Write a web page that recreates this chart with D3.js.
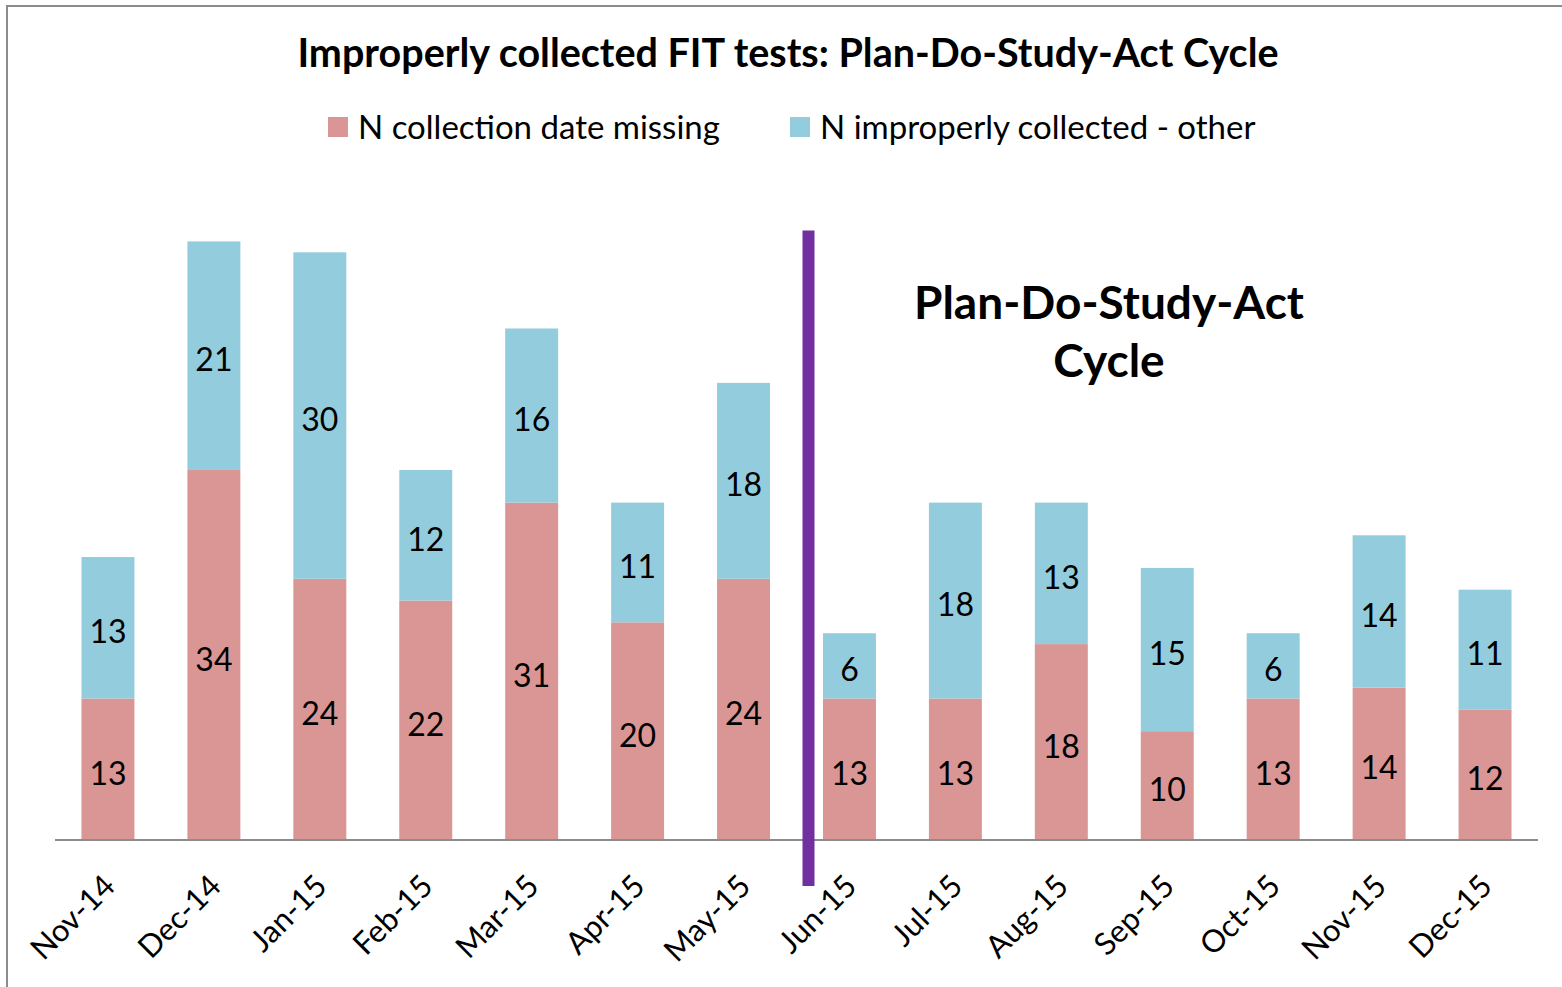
<!DOCTYPE html>
<html>
<head>
<meta charset="utf-8">
<script src="https://cdn.jsdelivr.net/npm/d3@7"></script>
<style>
  body { margin: 0; background: #fff; }
  text { font-family: Lato, "Open Sans", sans-serif; }
</style>
</head>
<body>
<div id="chart-area"></div>
<script>
const months = ['Nov-14', 'Dec-14', 'Jan-15', 'Feb-15', 'Mar-15', 'Apr-15', 'May-15',
                'Jun-15', 'Jul-15', 'Aug-15', 'Sep-15', 'Oct-15', 'Nov-15', 'Dec-15'];
const dateMissing = [13, 34, 24, 22, 31, 20, 24, 13, 13, 18, 10, 13, 14, 12];
const otherImproper = [13, 21, 30, 12, 16, 11, 18, 6, 18, 13, 15, 6, 14, 11];
const seriesNames = ['N collection date missing', 'N improperly collected - other'];
const colors = ['#d99694', '#93cddd'];

const W = 1562, H = 987;
const margin = {left: 55, right: 24, top: 187, bottom: 147};
const width = W - margin.left - margin.right;
const height = H - margin.top - margin.bottom;

const svg = d3.select('#chart-area')
    .append('svg')
        .attr('width', W)
        .attr('height', H);

// chart frame (cut off at right and bottom)
svg.append('rect')
    .attr('x', 7).attr('y', 6)
    .attr('width', W + 10).attr('height', H + 10)
    .attr('fill', 'none')
    .attr('stroke', '#8c8c8c')
    .attr('stroke-width', 2);

// title
svg.append('text')
    .attr('x', 788).attr('y', 67)
    .attr('text-anchor', 'middle')
    .attr('font-size', '39.5px')
    .attr('font-weight', 'bold')
    .text('Improperly collected FIT tests: Plan-Do-Study-Act Cycle');

// legend
const legendX = [328, 790];
seriesNames.forEach((name, i) => {
    svg.append('rect')
        .attr('x', legendX[i]).attr('y', 117)
        .attr('width', 20).attr('height', 20)
        .attr('fill', colors[i]);
    svg.append('text')
        .attr('x', legendX[i] + 30).attr('y', 139)
        .attr('font-size', '33px')
        .text(name);
});

const g = svg.append('g')
    .attr('transform', `translate(${margin.left}, ${margin.top})`);

const x = d3.scaleBand()
    .domain(months)
    .range([0, width])
    .paddingInner(0.5)
    .paddingOuter(0.25);

const y = d3.scaleLinear()
    .domain([0, 60])
    .range([height, 0]);

const rows = months.map((m, i) => ({month: m, a: dateMissing[i], b: otherImproper[i]}));
const stacked = d3.stack().keys(['a', 'b'])(rows);

const layers = g.selectAll('.layer')
    .data(stacked)
    .enter().append('g')
        .attr('class', 'layer')
        .attr('fill', (d, i) => colors[i]);

layers.selectAll('rect')
    .data(d => d)
    .enter().append('rect')
        .attr('x', d => x(d.data.month))
        .attr('y', d => y(d[1]))
        .attr('width', x.bandwidth())
        .attr('height', d => y(d[0]) - y(d[1]));

layers.selectAll('text')
    .data(d => d)
    .enter().append('text')
        .attr('x', d => x(d.data.month) + x.bandwidth() / 2)
        .attr('y', d => (y(d[0]) + y(d[1])) / 2 + 4)
        .attr('dy', '0.36em')
        .attr('text-anchor', 'middle')
        .attr('font-size', '32px')
        .attr('fill', '#000')
        .text(d => d[1] - d[0]);

// x axis
const xAxis = g.append('g')
    .attr('transform', `translate(0, ${height})`)
    .call(d3.axisBottom(x).tickSize(0).tickPadding(0));
xAxis.select('.domain')
    .attr('stroke', '#8c8c8c')
    .attr('stroke-width', 2)
    .attr('d', `M0,0H${width}`);
xAxis.selectAll('text')
    .attr('font-size', '31px')
    .attr('fill', '#000')
    .attr('text-anchor', 'end')
    .attr('dy', 0)
    .attr('y', 0)
    .attr('transform', `translate(9, 48) rotate(-45)`);

// PDSA divider line
const lineX = x('Jun-15') - (x.step() - x.bandwidth()) / 2 + 12;
g.append('line')
    .attr('x1', lineX).attr('x2', lineX)
    .attr('y1', y(56)).attr('y2', height + 46)
    .attr('stroke', '#7030a0')
    .attr('stroke-width', 12);

// annotation
const note = g.append('text')
    .attr('text-anchor', 'middle')
    .attr('font-size', '46px')
    .attr('font-weight', 'bold');
note.append('tspan')
    .attr('x', 1054).attr('y', 132)
    .text('Plan-Do-Study-Act');
note.append('tspan')
    .attr('x', 1054).attr('y', 190)
    .text('Cycle');
</script>
</body>
</html>
